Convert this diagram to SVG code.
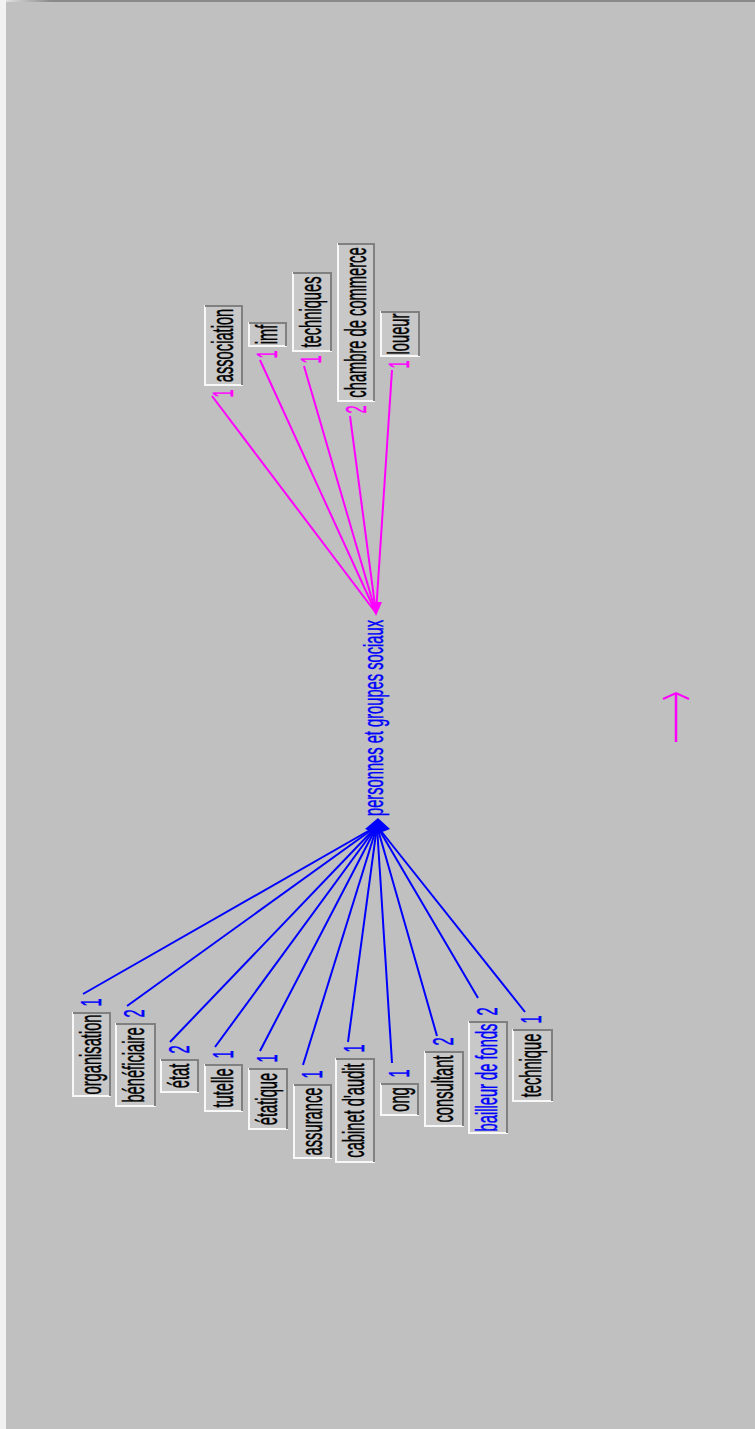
<svg xmlns="http://www.w3.org/2000/svg" width="755" height="1429" viewBox="0 0 755 1429">
<style>
.t{font-family:"Liberation Sans",Arial,sans-serif;font-size:14.7px;fill:#000;stroke:#000;stroke-width:0.25}
.m{text-anchor:middle}
.pk{fill:#ff00ff;stroke:#ff00ff}
.bl{fill:#0000ff;stroke:#0000ff}
.box{fill:#c8c8c8}
.hi{fill:none;stroke:#f8f8f8;stroke-width:2}
.sh{fill:none;stroke:#808080;stroke-width:2}
.lp{stroke:#ff00ff;stroke-width:2;fill:none}
.lb{stroke:#0000ff;stroke-width:2;fill:none}
</style>
<defs>
<linearGradient id="tg" x1="0" y1="0" x2="1" y2="0">
<stop offset="0" stop-color="#e0e0e0"/>
<stop offset="0.06" stop-color="#8a8a8a"/>
<stop offset="1" stop-color="#8a8a8a"/>
</linearGradient>
</defs>
<rect x="0" y="0" width="755" height="1429" fill="#c0c0c0"/>
<rect x="0" y="0" width="6" height="1429" fill="#f2f2f2"/>
<rect x="6" y="0" width="749" height="2" fill="url(#tg)"/>

<g id="connectors">
<line class="lp" x1="212" y1="396" x2="376" y2="613"/>
<line class="lp" x1="260" y1="360" x2="376" y2="613"/>
<line class="lp" x1="304" y1="366" x2="376" y2="613"/>
<line class="lp" x1="350" y1="416" x2="376" y2="613"/>
<line class="lp" x1="392" y1="370" x2="376" y2="613"/>
<polygon points="376,616 370,602 382,602" fill="#ff00ff"/>
<line class="lb" x1="83" y1="994" x2="377" y2="826"/>
<line class="lb" x1="127" y1="1006" x2="377" y2="826"/>
<line class="lb" x1="170" y1="1042" x2="377" y2="826"/>
<line class="lb" x1="215" y1="1047" x2="377" y2="826"/>
<line class="lb" x1="260" y1="1051" x2="377" y2="826"/>
<line class="lb" x1="303" y1="1065" x2="377" y2="826"/>
<line class="lb" x1="348" y1="1042" x2="377" y2="826"/>
<line class="lb" x1="392" y1="1063" x2="377" y2="826"/>
<line class="lb" x1="437" y1="1036" x2="377" y2="826"/>
<line class="lb" x1="478" y1="998" x2="377" y2="826"/>
<line class="lb" x1="525" y1="1012" x2="377" y2="826"/>
<polygon points="378,818 390,829 377,834 365,829" fill="#0000ff"/>
</g>

<g id="hub">
<text class="t m bl" transform="translate(383,718) scale(1.9,1) rotate(-90)">personnes et groupes sociaux</text>
</g>

<g id="n-association">
<rect class="box" x="204" y="305" width="39" height="81"/>
<polyline class="hi" points="205,305 205,385 243,385"/>
<polyline class="sh" points="205,306 242,306 242,385"/>
<text class="t m" transform="translate(232.5,345.5) scale(2,1) rotate(-90)">association</text>
<text class="t pk" transform="translate(232.5,397.5) scale(2,1) rotate(-90)">1</text>
</g>
<g id="n-imf">
<rect class="box" x="248" y="322" width="39" height="25"/>
<polyline class="hi" points="249,322 249,346 287,346"/>
<polyline class="sh" points="249,323 286,323 286,346"/>
<text class="t m" transform="translate(276.5,334.5) scale(2,1) rotate(-90)">imf</text>
<text class="t pk" transform="translate(276.5,358.5) scale(2,1) rotate(-90)">1</text>
</g>
<g id="n-techniques">
<rect class="box" x="292" y="272" width="40" height="80"/>
<polyline class="hi" points="293,272 293,351 332,351"/>
<polyline class="sh" points="293,273 331,273 331,351"/>
<text class="t m" transform="translate(320.5,312) scale(2,1) rotate(-90)">techniques</text>
<text class="t pk" transform="translate(320.5,363.5) scale(2,1) rotate(-90)">1</text>
</g>
<g id="n-chambre">
<rect class="box" x="337" y="243" width="38" height="159"/>
<polyline class="hi" points="338,243 338,401 375,401"/>
<polyline class="sh" points="338,244 374,244 374,401"/>
<text class="t m" transform="translate(365.5,322.5) scale(2,1) rotate(-90)">chambre de commerce</text>
<text class="t pk" transform="translate(365.5,413.5) scale(2,1) rotate(-90)">2</text>
</g>
<g id="n-loueur">
<rect class="box" x="380" y="311" width="40" height="46"/>
<polyline class="hi" points="381,311 381,356 420,356"/>
<polyline class="sh" points="381,312 419,312 419,356"/>
<text class="t m" transform="translate(408.5,334) scale(2,1) rotate(-90)">loueur</text>
<text class="t pk" transform="translate(408.5,368.5) scale(2,1) rotate(-90)">1</text>
</g>

<g id="n-organisation">
<rect class="box" x="72" y="1012" width="39" height="85"/>
<polyline class="hi" points="73,1012 73,1096 111,1096"/>
<polyline class="sh" points="73,1013 110,1013 110,1096"/>
<text class="t m" transform="translate(100.5,1054.5) scale(2,1) rotate(-90)">organisation</text>
<text class="t bl" transform="translate(100.5,1006.5) scale(2,1) rotate(-90)">1</text>
</g>
<g id="n-beneficiaire">
<rect class="box" x="115" y="1023" width="41" height="84"/>
<polyline class="hi" points="116,1023 116,1106 156,1106"/>
<polyline class="sh" points="116,1024 155,1024 155,1106"/>
<text class="t m" transform="translate(143.5,1065) scale(2,1) rotate(-90)">bénéficiaire</text>
<text class="t bl" transform="translate(143.5,1017.5) scale(2,1) rotate(-90)">2</text>
</g>
<g id="n-etat">
<rect class="box" x="160" y="1059" width="39" height="34"/>
<polyline class="hi" points="161,1059 161,1092 199,1092"/>
<polyline class="sh" points="161,1060 198,1060 198,1092"/>
<text class="t m" transform="translate(188.5,1076) scale(2,1) rotate(-90)">état</text>
<text class="t bl" transform="translate(188.5,1053.5) scale(2,1) rotate(-90)">2</text>
</g>
<g id="n-tutelle">
<rect class="box" x="204" y="1064" width="39" height="48"/>
<polyline class="hi" points="205,1064 205,1111 243,1111"/>
<polyline class="sh" points="205,1065 242,1065 242,1111"/>
<text class="t m" transform="translate(232.5,1088) scale(2,1) rotate(-90)">tutelle</text>
<text class="t bl" transform="translate(232.5,1058.5) scale(2,1) rotate(-90)">1</text>
</g>
<g id="n-etatique">
<rect class="box" x="248" y="1068" width="40" height="62"/>
<polyline class="hi" points="249,1068 249,1129 288,1129"/>
<polyline class="sh" points="249,1069 287,1069 287,1129"/>
<text class="t m" transform="translate(276.5,1099) scale(2,1) rotate(-90)">étatique</text>
<text class="t bl" transform="translate(276.5,1062.5) scale(2,1) rotate(-90)">1</text>
</g>
<g id="n-assurance">
<rect class="box" x="293" y="1084" width="39" height="75"/>
<polyline class="hi" points="294,1084 294,1158 332,1158"/>
<polyline class="sh" points="294,1085 331,1085 331,1158"/>
<text class="t m" transform="translate(321.5,1121.5) scale(2,1) rotate(-90)">assurance</text>
<text class="t bl" transform="translate(321.5,1078.5) scale(2,1) rotate(-90)">1</text>
</g>
<g id="n-cabinet">
<rect class="box" x="335" y="1058" width="40" height="105"/>
<polyline class="hi" points="336,1058 336,1162 375,1162"/>
<polyline class="sh" points="336,1059 374,1059 374,1162"/>
<text class="t m" transform="translate(363.5,1110.5) scale(2,1) rotate(-90)">cabinet d'audit</text>
<text class="t bl" transform="translate(363.5,1052.5) scale(2,1) rotate(-90)">1</text>
</g>
<g id="n-ong">
<rect class="box" x="380" y="1083" width="39" height="33"/>
<polyline class="hi" points="381,1083 381,1115 419,1115"/>
<polyline class="sh" points="381,1084 418,1084 418,1115"/>
<text class="t m" transform="translate(408.5,1099.5) scale(2,1) rotate(-90)">ong</text>
<text class="t bl" transform="translate(408.5,1077.5) scale(2,1) rotate(-90)">1</text>
</g>
<g id="n-consultant">
<rect class="box" x="424" y="1051" width="40" height="76"/>
<polyline class="hi" points="425,1051 425,1126 464,1126"/>
<polyline class="sh" points="425,1052 463,1052 463,1126"/>
<text class="t m" transform="translate(452.5,1089) scale(2,1) rotate(-90)">consultant</text>
<text class="t bl" transform="translate(452.5,1045.5) scale(2,1) rotate(-90)">2</text>
</g>
<g id="n-bailleur">
<rect class="box" x="468" y="1021" width="40" height="113"/>
<polyline class="hi" points="469,1021 469,1133 508,1133"/>
<polyline class="sh" points="469,1022 507,1022 507,1133"/>
<text class="t m bl" transform="translate(496.5,1077.5) scale(2,1) rotate(-90)">bailleur de fonds</text>
<text class="t bl" transform="translate(496.5,1015.5) scale(2,1) rotate(-90)">2</text>
</g>
<g id="n-technique">
<rect class="box" x="512" y="1029" width="41" height="73"/>
<polyline class="hi" points="513,1029 513,1101 553,1101"/>
<polyline class="sh" points="513,1030 552,1030 552,1101"/>
<text class="t m" transform="translate(540.5,1065.5) scale(2,1) rotate(-90)">technique</text>
<text class="t bl" transform="translate(540.5,1023.5) scale(2,1) rotate(-90)">1</text>
</g>

<g id="arrow">
<line x1="676" y1="742" x2="676" y2="694" stroke="#ff00ff" stroke-width="2.5"/>
<polyline points="663,699 676,693 689,699" fill="none" stroke="#ff00ff" stroke-width="2"/>
</g>
</svg>
